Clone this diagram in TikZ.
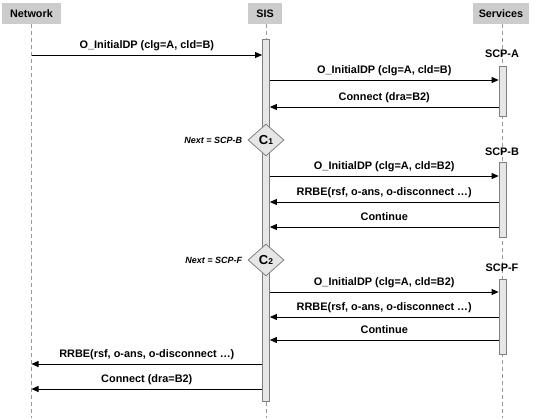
\documentclass[tikz,border=0pt]{standalone}
\usepackage{fontspec}
\setmainfont{Liberation Sans}
\usetikzlibrary{arrows.meta, shapes.geometric, positioning}

\definecolor{hdrgray}{RGB}{204,204,204}
\definecolor{barfill}{RGB}{230,230,230}
\definecolor{bardraw}{RGB}{128,128,128}

\begin{document}
\begin{tikzpicture}[x=1pt,y=-1pt,
        head/.style={fill=hdrgray, font=\fontsize{10.8}{12}\selectfont\bfseries, minimum height=21pt, inner sep=0pt},
        life/.style={draw=gray!80, dash pattern=on 4pt off 3pt, line width=0.6pt},
        actbar/.style={fill=barfill, draw=bardraw, line width=0.8pt, minimum width=7pt, inner sep=0pt},
        cond/.style={diamond, fill=barfill, draw=bardraw, line width=0.8pt, minimum width=36pt, minimum height=32pt, inner sep=0pt},
        msg/.style={line width=0.8pt, -{Triangle[length=7pt,width=6pt]}},
        lbl/.style={font=\fontsize{10.9}{12}\selectfont\bfseries, anchor=base, yshift=7pt},
        nextlbl/.style={font=\fontsize{9}{11}\selectfont\bfseries\itshape}]
        \useasboundingbox (0,0) rectangle (537,418);

        \node[head, minimum width=59pt] (net) at (31.5,13.5) {Network};
        \node[head, minimum width=34pt] (sis) at (265,13.5) {SIS};
        \node[head, minimum width=56pt] (srv) at (501,13.5) {Services};

        \draw[life] (31,24) -- (31,418);
        \draw[life] (266,24) -- (266,418);
        \draw[life] (502,24) -- (502,418);

        \node[actbar, minimum height=362pt] (sisbar) at (266,220) {};
        \node[actbar, minimum height=50pt] (barA) at (502.5,91) {};
        \node[actbar, minimum height=75pt] (barB) at (502.5,199.5) {};
        \node[actbar, minimum height=75pt] (barF) at (502.5,316.5) {};

        \node[font=\fontsize{10.9}{12}\selectfont\bfseries] (scpA) at (502,54) {SCP-A};
        \node[font=\fontsize{10.9}{12}\selectfont\bfseries] (scpB) at (502,152) {SCP-B};
        \node[font=\fontsize{10.9}{12}\selectfont\bfseries] (scpF) at (502,268) {SCP-F};

        \node[cond] (c1) at (266,140) {{\fontsize{13}{13}\selectfont\bfseries C}{\fontsize{8.5}{9}\selectfont\bfseries\raisebox{-0.5pt}{1}}};
        \node[cond] (c2) at (266,260) {{\fontsize{13}{13}\selectfont\bfseries C}{\fontsize{8.5}{9}\selectfont\bfseries\raisebox{-0.5pt}{2}}};
        \node[nextlbl, left=2pt of c1] (next1) {Next = SCP-B};
        \node[nextlbl, left=2pt of c2] (next2) {Next = SCP-F};

        \draw[msg] (net.south |- 0,55) -- node[lbl]{O\_InitialDP (clg=A, cld=B)} (sisbar.west |- 0,55);
        \draw[msg] (sisbar.east |- 0,80) -- node[lbl]{O\_InitialDP (clg=A, cld=B)} (barA.west |- 0,80);
        \draw[msg] (barA.west |- 0,107) -- node[lbl]{Connect (dra=B2)} (sisbar.east |- 0,107);
        \draw[msg] (sisbar.east |- 0,176) -- node[lbl]{O\_InitialDP (clg=A, cld=B2)} (barB.west |- 0,176);
        \draw[msg] (barB.west |- 0,202) -- node[lbl]{RRBE(rsf, o-ans, o-disconnect …)} (sisbar.east |- 0,202);
        \draw[msg] (barB.west |- 0,227) -- node[lbl]{Continue} (sisbar.east |- 0,227);
        \draw[msg] (sisbar.east |- 0,292) -- node[lbl]{O\_InitialDP (clg=A, cld=B2)} (barF.west |- 0,292);
        \draw[msg] (barF.west |- 0,317) -- node[lbl]{RRBE(rsf, o-ans, o-disconnect …)} (sisbar.east |- 0,317);
        \draw[msg] (barF.west |- 0,340) -- node[lbl]{Continue} (sisbar.east |- 0,340);
        \draw[msg] (sisbar.west |- 0,364) -- node[lbl]{RRBE(rsf, o-ans, o-disconnect …)} (net.south |- 0,364);
        \draw[msg] (sisbar.west |- 0,389) -- node[lbl]{Connect (dra=B2)} (net.south |- 0,389);
\end{tikzpicture}
\end{document}
